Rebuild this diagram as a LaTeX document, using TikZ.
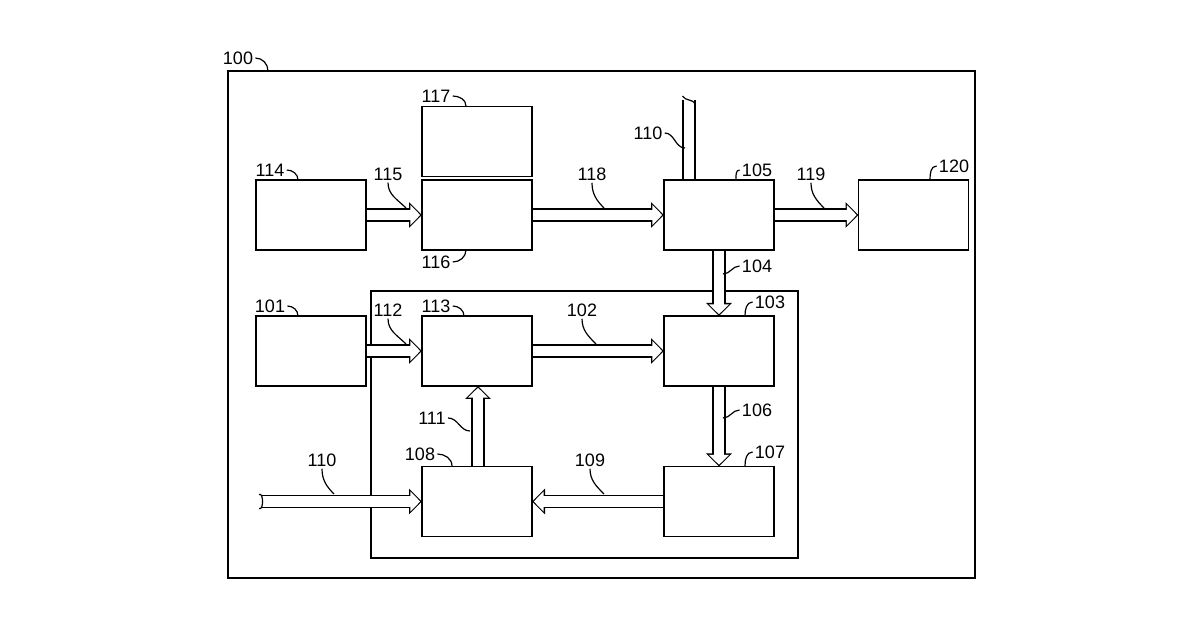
\documentclass[tikz,border=0pt]{standalone}
\usepackage{fontspec}
\setmainfont{Liberation Sans}
\usetikzlibrary{arrows.meta}
\tikzset{
  blk/.style={draw, line width=0.75pt, minimum width=55pt, minimum height=35pt, inner sep=0pt, outer sep=0pt},
  lbl/.style={font=\fontsize{9}{10}\selectfont, inner sep=1pt},
  lead/.style={line width=0.6pt},
  shaftout/.style={line width=6.8pt, -{Triangle[length=6.5pt,width=12.5pt]}},
  shaftin/.style={line width=5.2pt, white, shorten >=0.9pt, -{Triangle[length=4.9pt,width=9.8pt]}},
  busout/.style={line width=6.8pt},
  busin/.style={line width=5.2pt, white}
}
\newcommand{\hollow}[2]{%
  \draw[shaftout] (#1) -- (#2);
  \draw[shaftin] (#1) -- (#2);}
\newcommand{\bus}[2]{%
  \draw[busout] (#1) -- (#2);
  \draw[busin] (#1) -- (#2);}
\begin{document}
\begin{tikzpicture}[x=0.5pt,y=-0.5pt]
\useasboundingbox (0,0) rectangle (1200,630);
% frames
\draw[line width=0.9pt] (228,71) rectangle (975,578);
\draw[line width=0.9pt] (371,291) rectangle (798,558);
% blocks
\node[blk] (b114) at (311,215) {};
\node[blk] (b117) at (477,141.5) {};
\node[blk] (b116) at (477,215) {};
\node[blk] (b105) at (719,215) {};
\node[blk] (b120) at (913.5,215) {};
\node[blk] (b101) at (311,351) {};
\node[blk] (b113) at (477,351) {};
\node[blk] (b103) at (719,351) {};
\node[blk] (b108) at (477,501.5) {};
\node[blk] (b107) at (719,501.5) {};
% free ends
\coordinate (t110) at (689,100);
\coordinate (l110) at (262,501.5);
% block arrows
\hollow{b114.east}{b116.west}
\hollow{b116.east}{b105.west}
\hollow{b105.east}{b120.west}
\hollow{b105.south}{b103.north}
\hollow{b101.east}{b113.west}
\hollow{b113.east}{b103.west}
\hollow{b103.south}{b107.north}
\hollow{b107.west}{b108.east}
\hollow{b108.north -| 478,0}{b113.south -| 478,0}
\hollow{l110}{b108.west}
\bus{t110}{b105.north -| t110}
% redraw block outlines over the shafts
\foreach \n in {b114,b117,b116,b105,b120,b101,b113,b103,b108,b107}
  \draw[line width=0.75pt] (\n.south west) rectangle (\n.north east);
% wavy ends
\draw[lead] (682.5,96) to[out=-60,in=120] (695.5,104);
\draw[lead] (259,494.5) to[out=30,in=-30] (259,508.5);
% labels
\node[lbl] (n100) at (238,58) {100};
\draw[lead] (n100.east) to[out=0,in=90] (268,71);
\node[lbl] (n117) at (436,96) {117};
\draw[lead] (n117.east) to[out=0,in=90] (466,106);
\node[lbl] (n114) at (270,170) {114};
\draw[lead] (n114.east) to[out=0,in=90] (298,180);
\node[lbl] (n115) at (388,174) {115};
\draw[lead] (n115.south) to[out=-90,in=135] (406,208);
\node[lbl] (n118) at (592,174) {118};
\draw[lead] (n118.south) to[out=-90,in=135] (604,208);
\node[lbl] (n110a) at (648,133) {110};
\draw[lead] (n110a.east) to[out=0,in=180] (685,148);
\node[lbl] (n105) at (757,170) {105};
\draw[lead] (n105.west) to[out=180,in=90] (736,180);
\node[lbl] (n119) at (811,174) {119};
\draw[lead] (n119.south) to[out=-90,in=135] (824,208);
\node[lbl] (n120) at (954,166) {120};
\draw[lead] (n120.west) to[out=180,in=90] (930,180);
\node[lbl] (n116) at (436,262) {116};
\draw[lead] (n116.east) to[out=0,in=-90] (466,250);
\node[lbl] (n104) at (757,266) {104};
\draw[lead] (n104.west) to[out=180,in=0] (723,274);
\node[lbl] (n101) at (270,306) {101};
\draw[lead] (n101.east) to[out=0,in=90] (298,316);
\node[lbl] (n112) at (388,310) {112};
\draw[lead] (n112.south) to[out=-90,in=135] (406,344);
\node[lbl] (n113) at (436,306) {113};
\draw[lead] (n113.east) to[out=0,in=90] (464,316);
\node[lbl] (n102) at (582,310) {102};
\draw[lead] (n102.south) to[out=-90,in=135] (596,344);
\node[lbl] (n103) at (770,302) {103};
\draw[lead] (n103.west) to[out=180,in=90] (745,316);
\node[lbl] (n111) at (432,418) {111};
\draw[lead] (n111.east) to[out=0,in=180] (470,431);
\node[lbl] (n106) at (757,410) {106};
\draw[lead] (n106.west) to[out=180,in=0] (723,418);
\node[lbl] (n108) at (420,454) {108};
\draw[lead] (n108.east) to[out=0,in=90] (452,466);
\node[lbl] (n109) at (590,460) {109};
\draw[lead] (n109.south) to[out=-90,in=135] (604,494);
\node[lbl] (n107) at (770,452) {107};
\draw[lead] (n107.west) to[out=180,in=90] (745,466);
\node[lbl] (n110b) at (322,460) {110};
\draw[lead] (n110b.south) to[out=-90,in=135] (334,494);
\end{tikzpicture}
\end{document}
